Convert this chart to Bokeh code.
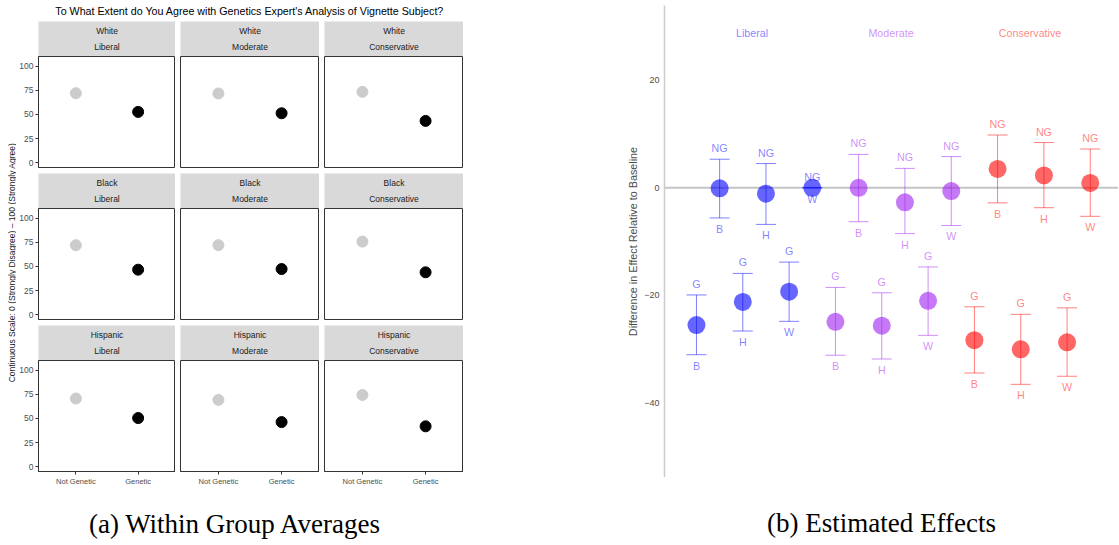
import numpy as np
from bokeh.plotting import figure
from bokeh.models import Range1d, FixedTicker, ColumnDataSource, Whisker, TeeHead, Span
from bokeh.layouts import row, column
from bokeh.embed import file_html
from bokeh.resources import INLINE
from bokeh.core.properties import value

SANS = "Liberation Sans"
SERIF = "Liberation Serif"

# ---------------- data: (a) within group averages ----------------
races = ["White", "Black", "Hispanic"]
ideologies = ["Liberal", "Moderate", "Conservative"]
conditions = ["Not Genetic", "Genetic"]
avg_ticks = [0, 25, 50, 75, 100]
white_not_genetic = [72.0, 71.7, 73.4]
white_genetic = [52.6, 51.2, 43.3]
black_not_genetic = [72.0, 72.0, 75.7]
black_genetic = [46.6, 47.3, 43.9]
hispanic_not_genetic = [70.6, 69.2, 74.3]
hispanic_genetic = [50.4, 46.2, 41.8]

# ---------------- data: (b) estimated effects ----------------
subject_codes = ["B", "H", "W"]
effect_ticks = [-40, -20, 0, 20]
ng_est = [-0.1, -1.1, 0.0, 0.0, -2.7, -0.6, 3.5, 2.3, 0.9]
ng_lo = [-5.6, -6.8, 0.0, -6.3, -8.5, -7.0, -2.8, -3.7, -5.3]
ng_hi = [5.3, 4.5, 0.0, 6.2, 3.6, 5.8, 9.8, 8.4, 7.2]
g_est = [-25.5, -21.2, -19.3, -24.9, -25.6, -21.0, -28.3, -30.0, -28.7]
g_lo = [-31.0, -26.6, -24.8, -31.1, -31.8, -27.4, -34.4, -36.5, -35.0]
g_hi = [-19.9, -15.9, -13.8, -18.5, -19.5, -14.7, -22.1, -23.5, -22.3]
ideology_colors = ["#0000ff", "#a020f0", "#ff0000"]

avg_by_race = {
    "White": (white_not_genetic, white_genetic),
    "Black": (black_not_genetic, black_genetic),
    "Hispanic": (hispanic_not_genetic, hispanic_genetic),
}

FRAME_W = 139
FRAME_H = 111
STRIP_H = 35
YLAB_W = 16


def blank(width, height, xr, yr, left=0):
    f = figure(width=width, height=height, x_range=xr, y_range=yr,
               x_axis_location=None, y_axis_location=None,
               toolbar_location=None, output_backend="svg",
               min_border_left=left, min_border_right=0,
               min_border_top=0, min_border_bottom=0)
    f.grid.grid_line_color = None
    f.outline_line_color = None
    return f


def make_strip(race, ideo, first_col):
    left = 20 if first_col else 5
    s = blank(left + FRAME_W, STRIP_H, Range1d(0, 1), Range1d(0, 2), left=left)
    s.background_fill_color = "#d9d9d9"
    s.border_fill_color = "white"
    s.text(x=[0.5, 0.5], y=[1.48, 0.53], text=[race, ideo],
           text_align="center", text_baseline="middle",
           text_font=value(SANS), text_font_size="8.5px", text_color="#1a1a1a")
    return s


def style_axis(ax, size):
    ax.minor_tick_line_color = None
    ax.major_tick_out = 3
    ax.major_tick_in = 0
    ax.major_tick_line_color = "#333333"
    ax.axis_line_color = "#333333"
    ax.major_label_standoff = 2
    ax.major_label_text_font = SANS
    ax.major_label_text_font_size = size
    ax.major_label_text_color = "#4d4d4d"


def make_panel(race, k, first_col, bottom_row):
    left = 20 if first_col else 5
    bottom = 20 if bottom_row else 6
    p = figure(width=left + FRAME_W, height=FRAME_H + bottom,
               x_range=Range1d(0.4, 2.6), y_range=Range1d(-5, 110),
               x_axis_location="below" if bottom_row else None,
               y_axis_location="left" if first_col else None,
               toolbar_location=None, output_backend="svg",
               min_border_left=left, min_border_right=0,
               min_border_top=0, min_border_bottom=bottom)
    p.grid.grid_line_color = None
    p.outline_line_color = "#333333"
    p.outline_line_width = 1
    if first_col:
        ax = p.yaxis[0]
        ax.ticker = FixedTicker(ticks=avg_ticks)
        style_axis(ax, "8.5px")
    if bottom_row:
        ax = p.xaxis[0]
        ax.ticker = FixedTicker(ticks=[1, 2])
        ax.major_label_overrides = {1: conditions[0], 2: conditions[1]}
        style_axis(ax, "7.5px")
    ng, g = avg_by_race[race]
    src = ColumnDataSource(dict(x=[1, 2], y=[ng[k], g[k]], c=["#cccccc", "#000000"]))
    p.scatter("x", "y", source=src, size=11, fill_color="c", line_color="c")
    return p


cols = []
for k, ideo in enumerate(ideologies):
    items = []
    for r, race in enumerate(races):
        items.append(make_strip(race, ideo, k == 0))
        items.append(make_panel(race, k, k == 0, r == len(races) - 1))
    cols.append(column(*items, spacing=0))

grid_h = 3 * STRIP_H + 3 * FRAME_H + 6 + 6 + 20

ylab = blank(YLAB_W, grid_h, Range1d(0, YLAB_W), Range1d(0, grid_h))
ylab.text(x=[11], y=[grid_h - 241],
          text=["Continuous Scale: 0 (Strongly Disagree) \u2013 100 (Strongly Agree)"],
          angle=np.pi / 2, text_align="center", text_baseline="middle",
          text_font=value(SANS), text_font_size="8.5px", text_color="#1a1a1a")

left_w = YLAB_W + (20 + FRAME_W) + 2 * (5 + FRAME_W)

title_fig = blank(left_w, 21, Range1d(0, left_w), Range1d(0, 21))
title_fig.text(x=[249.5], y=[11],
               text=["To What Extent do You Agree with Genetics Expert's Analysis of Vignette Subject?"],
               text_align="center", text_baseline="middle",
               text_font=value(SANS), text_font_size="10.7px", text_color="#000000")

CAP_H = 544 - 21 - grid_h
cap_a = blank(left_w, CAP_H, Range1d(0, left_w), Range1d(0, CAP_H))
cap_a.text(x=[235], y=[CAP_H - 32], text=["(a) Within Group Averages"],
           text_align="center", text_baseline="middle",
           text_font=value(SERIF), text_font_size="27px", text_color="#000000")

left_block = column(title_fig, row(ylab, *cols, spacing=0), cap_a, spacing=0)

# ---------------- (b) ----------------
RIGHT_W = 655
RIGHT_H = 477
pb = figure(width=RIGHT_W, height=RIGHT_H,
            x_range=Range1d(-0.69, 9.11), y_range=Range1d(-53.8, 33.85),
            x_axis_location=None, toolbar_location=None, output_backend="svg",
            min_border_left=664 - left_w, min_border_right=0,
            min_border_top=5, min_border_bottom=0)
pb.grid.grid_line_color = None
pb.outline_line_color = None
ay = pb.yaxis[0]
ay.ticker = FixedTicker(ticks=effect_ticks)
ay.minor_tick_line_color = None
ay.major_tick_out = 0
ay.major_tick_in = 0
ay.axis_line_color = "#cccccc"
ay.axis_line_width = 1.5
ay.major_label_standoff = 5
ay.major_label_text_font = SANS
ay.major_label_text_font_size = "9px"
ay.major_label_text_color = "#4d4d4d"
ay.axis_label = "Difference in Effect Relative to Baseline"
ay.axis_label_text_font = SANS
ay.axis_label_text_font_size = "10.8px"
ay.axis_label_text_font_style = "normal"
ay.axis_label_text_color = "#4d4d4d"
ay.axis_label_standoff = 2

pb.add_layout(Span(location=0, dimension="width", line_color="#c4c4c4", line_width=2, level="underlay"))

lab_x, lab_t, lab_c = [], [], []
for k, ideo in enumerate(ideologies):
    c = ideology_colors[k]
    sl = slice(3 * k, 3 * k + 3)
    base = [3 * k + j for j in range(3)]
    for tag, est, lo, hi, shift in (("NG", ng_est, ng_lo, ng_hi, 0.5), ("G", g_est, g_lo, g_hi, 0.0)):
        src = ColumnDataSource(dict(
            x=[b + shift for b in base], est=est[sl], lo=lo[sl], hi=hi[sl],
            top=[tag] * 3, bot=subject_codes))
        w = Whisker(source=src, base="x", upper="hi", lower="lo", dimension="height",
                    line_color=c, line_alpha=0.5, line_width=1,
                    upper_head=TeeHead(size=20, line_color=c, line_alpha=0.5, line_width=1),
                    lower_head=TeeHead(size=20, line_color=c, line_alpha=0.5, line_width=1))
        pb.add_layout(w)
        pb.scatter("x", "est", source=src, size=18, fill_color=c, fill_alpha=0.6, line_color=None)
        pb.text("x", "hi", text="top", source=src, y_offset=-11,
                text_align="center", text_baseline="middle",
                text_font=value(SANS), text_font_size="10.7px", text_color=c, text_alpha=0.5)
        pb.text("x", "lo", text="bot", source=src, y_offset=11,
                text_align="center", text_baseline="middle",
                text_font=value(SANS), text_font_size="10.7px", text_color=c, text_alpha=0.5)
    lab_x.append(3 * k + 1.2)
    lab_t.append(ideo)
    lab_c.append(c)

pb.text(x=lab_x, y=[28.8] * 3, text=lab_t, text_color=lab_c, text_alpha=0.5,
        text_align="center", text_baseline="middle",
        text_font=value(SANS), text_font_size="10.7px")

CAPB_H = 544 - RIGHT_H
cap_b = blank(RIGHT_W, CAPB_H, Range1d(0, RIGHT_W), Range1d(0, CAPB_H))
cap_b.text(x=[313], y=[CAPB_H - 45], text=["(b) Estimated Effects"],
           text_align="center", text_baseline="middle",
           text_font=value(SERIF), text_font_size="27px", text_color="#000000")

right_block = column(pb, cap_b, spacing=0)

layout = row(left_block, right_block, spacing=0)

open("out.html", "w").write(file_html(layout, INLINE))
